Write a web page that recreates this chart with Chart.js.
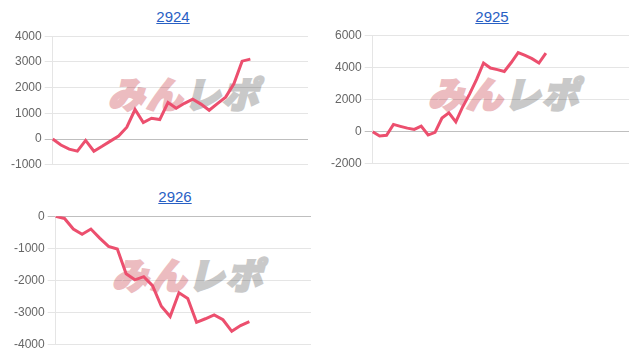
<!DOCTYPE html>
<html>
<head>
<meta charset="utf-8">
<script src="https://cdn.jsdelivr.net/npm/chart.js@4/dist/chart.umd.min.js"></script>
<style>
  body { margin: 0; background: #fff; width: 636px; height: 358px; overflow: hidden; position: relative; font-family: 'Liberation Sans', Arial, sans-serif; }
  .cell { position: absolute; width: 318px; height: 180px; }
  .title { position: absolute; width: 120px; text-align: center; font-size: 15px; line-height: 18px; }
  .title a { color: #2860c4; text-decoration: underline; }
  .mark { position: absolute; font-family: 'Noto Sans CJK JP', sans-serif; font-weight: 900; font-size: 36px; line-height: 1; letter-spacing: 2px; white-space: nowrap; transform: translate(-50%, -50%) skewX(-14deg); }
  .mark .a { color: #ecbcc0; -webkit-text-stroke: 2.5px #ecbcc0; }
  .mark .b { color: #c9c9c9; -webkit-text-stroke: 2.5px #c9c9c9; }
  .box { position: absolute; left: 0; width: 318px; height: 149px; }
</style>
</head>
<body>

<div class="cell" style="left:0;top:0">
  <div class="title" style="left:113px;top:8px"><a href="#">2924</a></div>
  <div class="mark" style="left:188px;top:92px"><span class="a">みん</span><span class="b">レポ</span></div>
  <div class="box" style="top:26px"><canvas id="chart2924"></canvas></div>
</div>

<div class="cell" style="left:318px;top:0">
  <div class="title" style="left:114px;top:8px"><a href="#">2925</a></div>
  <div class="mark" style="left:190px;top:92px"><span class="a">みん</span><span class="b">レポ</span></div>
  <div class="box" style="top:25px"><canvas id="chart2925"></canvas></div>
</div>

<div class="cell" style="left:0;top:180px">
  <div class="title" style="left:115px;top:8px"><a href="#">2926</a></div>
  <div class="mark" style="left:192px;top:93px"><span class="a">みん</span><span class="b">レポ</span></div>
  <div class="box" style="top:26px"><canvas id="chart2926"></canvas></div>
</div>

<script>
// x categories (not shown on the chart)
const labels2924 = ['1','2','3','4','5','6','7','8','9','10','11','12','13','14','15','16',
  '17','18','19','20','21','22','23','24','25','26','27','28','29','30','31','32'];
const labels2925 = ['1','2','3','4','5','6','7','8','9','10','11','12','13','14','15','16','17','18','19',
  '20','21','22','23','24','25','26','27','28','29','30','31','32','33','34','35','36','37','38'];
const labels2926 = ['1','2','3','4','5','6','7','8','9','10','11','12','13','14','15',
  '16','17','18','19','20','21','22','23','24','25','26','27','28','29','30'];

// cumulative values
const values2924 = [0, -230, -390, -470, -50, -470, -280, -80, 120, 460, 1150, 640, 810, 760, 1420,
  1200, 1390, 1550, 1360, 1120, 1380, 1630, 2150, 3030, 3110];
const values2925 = [0, -270, -230, 450, 330, 220, 140, 340, -210, -40, 850, 1170, 610, 1550, 2350,
  3250, 4270, 3960, 3860, 3740, 4300, 4920, 4740, 4540, 4270, 4880];
const values2926 = [0, -70, -400, -560, -400, -680, -940, -1020, -1790, -1980, -1880, -2160, -2800,
  -3120, -2380, -2560, -3300, -3190, -3070, -3220, -3580, -3400, -3280];

// y axis ranges: [min, max, step]
const yRange2924 = [-1000, 4000, 1000];
const yRange2925 = [-2000, 6000, 2000];
const yRange2926 = [-4000, 0, 1000];

Chart.defaults.font.family = "'Liberation Sans', Arial, sans-serif";
Chart.defaults.font.size = 12;
Chart.defaults.color = '#666';

function makeChart(id, labels, values, yRange, pad) {
  const ctx = document.getElementById(id).getContext('2d');
  return new Chart(ctx, {
    type: 'line',
    data: {
      labels: labels,
      datasets: [{
        data: values,
        borderColor: '#ec4f6e',
        borderWidth: 3,
        pointRadius: 0,
        fill: false,
        tension: 0
      }]
    },
    options: {
      responsive: true,
      maintainAspectRatio: false,
      animation: false,
      layout: { padding: pad },
      plugins: {
        legend: { display: false },
        tooltip: { enabled: false }
      },
      scales: {
        x: { display: false },
        y: {
          min: yRange[0],
          max: yRange[1],
          ticks: {
            stepSize: yRange[2],
            callback: (v) => String(v)
          },
          grid: {
            color: (c) => (c.tick && c.tick.value === 0 ? 'rgba(0,0,0,0.25)' : 'rgba(0,0,0,0.1)')
          },
          border: { color: 'rgba(0,0,0,0.1)' }
        }
      }
    }
  });
}

makeChart('chart2924', labels2924, values2924, yRange2924, { left: 8, right: 10, top: 10, bottom: 8 });
makeChart('chart2925', labels2925, values2925, yRange2925, { left: 10, right: 7, top: 10, bottom: 8 });
makeChart('chart2926', labels2926, values2926, yRange2926, { left: 11, right: 7, top: 10, bottom: 8 });
</script>
</body>
</html>
